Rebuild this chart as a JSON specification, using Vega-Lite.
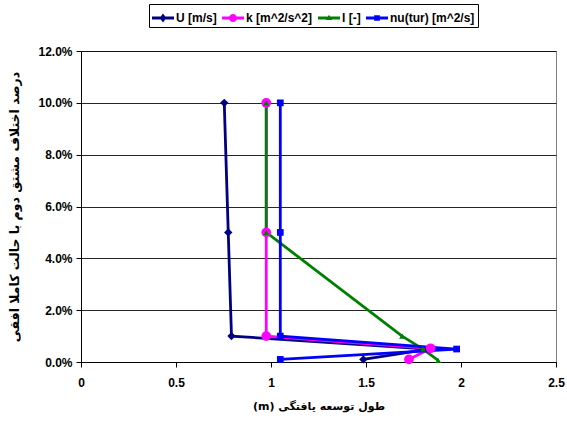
{
  "$schema": "https://vega.github.io/schema/vega-lite/v6.json",
  "width": 475,
  "height": 311,
  "autosize": "none",
  "padding": {"left": 81, "top": 51, "right": 11, "bottom": 72},
  "background": "white",
  "config": {
    "view": {"stroke": "#808080", "strokeWidth": 1},
    "font": "Liberation Sans",
    "legend": {
      "labelFont": "Liberation Sans",
      "labelFontSize": 12,
      "labelFontWeight": "bold",
      "labelColor": "black",
      "labelOffset": 2,
      "columnPadding": 5,
      "symbolSize": 484,
      "symbolOpacity": 1,
      "symbolStrokeWidth": 0,
      "padding": 3,
      "strokeColor": "black",
      "fillColor": "white"
    }
  },
  "data": {
    "values": [
      {"series": "U [m/s]", "idx": 1, "x": 0.754, "y": 0.10},
      {"series": "U [m/s]", "idx": 2, "x": 0.775, "y": 0.05},
      {"series": "U [m/s]", "idx": 3, "x": 0.792, "y": 0.01},
      {"series": "U [m/s]", "idx": 4, "x": 1.83, "y": 0.005},
      {"series": "U [m/s]", "idx": 5, "x": 1.486, "y": 0.001},
      {"series": "k [m^2/s^2]", "idx": 1, "x": 0.975, "y": 0.10},
      {"series": "k [m^2/s^2]", "idx": 2, "x": 0.975, "y": 0.05},
      {"series": "k [m^2/s^2]", "idx": 3, "x": 0.975, "y": 0.01},
      {"series": "k [m^2/s^2]", "idx": 4, "x": 1.84, "y": 0.0053},
      {"series": "k [m^2/s^2]", "idx": 5, "x": 1.726, "y": 0.001},
      {"series": "l [-]", "idx": 1, "x": 0.975, "y": 0.10},
      {"series": "l [-]", "idx": 2, "x": 0.975, "y": 0.05},
      {"series": "l [-]", "idx": 3, "x": 1.69, "y": 0.01},
      {"series": "l [-]", "idx": 4, "x": 1.80, "y": 0.005},
      {"series": "l [-]", "idx": 5, "x": 1.88, "y": 0.0006},
      {"series": "nu(tur) [m^2/s]", "idx": 1, "x": 1.049, "y": 0.10},
      {"series": "nu(tur) [m^2/s]", "idx": 2, "x": 1.049, "y": 0.05},
      {"series": "nu(tur) [m^2/s]", "idx": 3, "x": 1.049, "y": 0.01},
      {"series": "nu(tur) [m^2/s]", "idx": 4, "x": 1.977, "y": 0.005},
      {"series": "nu(tur) [m^2/s]", "idx": 5, "x": 1.049, "y": 0.001}
    ]
  },
  "encoding": {
    "x": {
      "field": "x", "type": "quantitative",
      "scale": {"domain": [0, 2.5], "nice": false, "zero": false},
      "axis": {
        "values": [0, 0.5, 1, 1.5, 2, 2.5],
        "format": "~g",
        "grid": false,
        "domainColor": "black",
        "tickColor": "black",
        "tickSize": 5,
        "labelFont": "Liberation Sans",
        "labelFontSize": 12,
        "labelFontWeight": "bold",
        "labelColor": "black",
        "labelPadding": 10,
        "labelFlush": false,
        "title": "(m) طول توسعه یافتگی",
        "titleFont": "DejaVu Sans",
        "titleFontSize": 11,
        "titleFontWeight": "bold",
        "titleColor": "black",
        "titlePadding": 12
      }
    },
    "y": {
      "field": "y", "type": "quantitative",
      "scale": {"domain": [0, 0.12], "nice": false, "zero": false},
      "axis": {
        "values": [0, 0.02, 0.04, 0.06, 0.08, 0.10, 0.12],
        "format": ".1%",
        "grid": true,
        "gridColor": "#000000",
        "gridOpacity": 0.85,
        "domainColor": "black",
        "tickColor": "black",
        "tickSize": 5,
        "labelFont": "Liberation Sans",
        "labelFontSize": 12,
        "labelFontWeight": "bold",
        "labelColor": "black",
        "labelPadding": 4,
        "title": "درصد اختلاف مشتق دوم با حالت کاملا افقی",
        "titleFont": "DejaVu Sans",
        "titleFontSize": 12.5,
        "titleFontWeight": "bold",
        "titleColor": "black",
        "titlePadding": 16
      }
    }
  },
  "layer": [
    {
      "mark": {"type": "line", "strokeWidth": 2.8},
      "encoding": {
        "order": {"field": "idx", "type": "quantitative"},
        "stroke": {
          "field": "series", "type": "nominal",
          "scale": {
            "domain": ["k [m^2/s^2]", "U [m/s]", "l [-]", "nu(tur) [m^2/s]"],
            "range": ["#FF00FF", "#000080", "#008000", "#0000FF"]
          },
          "legend": null
        }
      }
    },
    {
      "transform": [{"filter": "datum.series === 'U [m/s]'"}],
      "mark": {"type": "point", "shape": "diamond", "filled": true, "size": 70, "opacity": 1, "strokeWidth": 0},
      "encoding": {"fill": {"field": "series", "type": "nominal", "scale": {"domain": ["l [-]", "U [m/s]", "k [m^2/s^2]", "nu(tur) [m^2/s]"], "range": ["#008000", "#000080", "#FF00FF", "#0000FF"]}, "legend": null}}
    },
    {
      "transform": [{"filter": "datum.series === 'k [m^2/s^2]'"}],
      "mark": {"type": "point", "shape": "circle", "filled": true, "size": 95, "opacity": 1, "strokeWidth": 0},
      "encoding": {"fill": {"field": "series", "type": "nominal", "legend": null}}
    },
    {
      "transform": [{"filter": "datum.series === 'l [-]'"}],
      "mark": {"type": "point", "shape": "triangle-up", "filled": true, "size": 35, "opacity": 1, "strokeWidth": 0},
      "encoding": {"fill": {"field": "series", "type": "nominal", "legend": null}}
    },
    {
      "transform": [{"filter": "datum.series === 'nu(tur) [m^2/s]'"}],
      "mark": {"type": "point", "shape": "square", "filled": true, "size": 45, "opacity": 1, "strokeWidth": 0},
      "encoding": {"fill": {"field": "series", "type": "nominal", "legend": null}}
    },
    {
      "mark": {"type": "point", "filled": true, "opacity": 0},
      "encoding": {
        "color": {
          "field": "series", "type": "nominal",
          "scale": {
            "domain": ["U [m/s]", "k [m^2/s^2]", "l [-]", "nu(tur) [m^2/s]"],
            "range": ["#000080", "#FF00FF", "#008000", "#0000FF"]
          },
          "legend": {
            "orient": "none",
            "legendX": 68,
            "legendY": -47,
            "direction": "horizontal",
            "title": null,
            "labelFontWeight": "bold",
            "labelFontSize": 12,
            "symbolSize": 484,
            "symbolOpacity": 1,
            "symbolStrokeWidth": 0
          }
        },
        "shape": {
          "field": "series", "type": "nominal",
          "scale": {
            "domain": ["U [m/s]", "k [m^2/s^2]", "l [-]", "nu(tur) [m^2/s]"],
            "range": [
              "M-1,-0.13H1V0.13H-1Z M0,-0.4L0.3,0L0,0.4L-0.3,0Z",
              "M-1,-0.13H1V0.13H-1Z M-0.36,0A0.36,0.36 0 1,1 0.36,0A0.36,0.36 0 1,1 -0.36,0Z",
              "M-1,-0.13H1V0.13H-1Z M0,-0.3L0.28,0.18H-0.28Z",
              "M-1,-0.13H1V0.13H-1Z M-0.26,-0.26H0.26V0.26H-0.26Z"
            ]
          },
          "legend": {
            "orient": "none",
            "legendX": 68,
            "legendY": -47,
            "direction": "horizontal",
            "title": null,
            "labelFontWeight": "bold",
            "labelFontSize": 12,
            "symbolSize": 484,
            "symbolOpacity": 1,
            "symbolStrokeWidth": 0
          }
        }
      }
    }
  ]
}
